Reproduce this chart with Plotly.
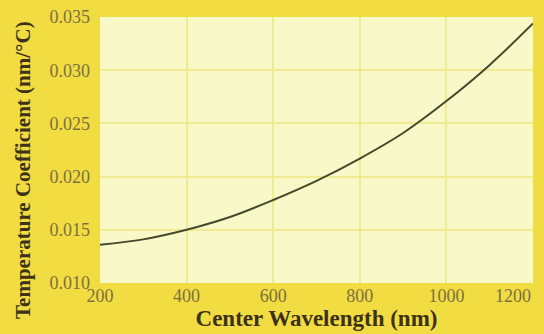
import plotly.graph_objects as go

# Temperature coefficient of the center wavelength
wavelength_nm = [200, 300, 400, 500, 600, 700, 800, 900, 1000, 1100, 1200]
temp_coeff = [0.0136, 0.0141, 0.0150, 0.0162, 0.0178, 0.0196, 0.0217, 0.0241, 0.0271, 0.0305, 0.0344]

x_ticks = [200, 400, 600, 800, 1000, 1200]
x_tick_text = ["200", "400", "600", "800", "1000", "1200"]
y_ticks = [0.010, 0.015, 0.020, 0.025, 0.030, 0.035]

serif = "Liberation Serif, Times New Roman, serif"
tick_color = "#7d7040"
title_color = "#3d3119"

# plot area in pixels: left 100, right 533, top 17, bottom 283
W, H = 544, 334
L, R, T, B = 100, 11, 17, 51
plot_w = W - L - R
plot_h = H - T - B

fig = go.Figure()
fig.add_trace(go.Scatter(
    x=wavelength_nm, y=temp_coeff, mode="lines",
    line=dict(color="#434a2c", width=2, shape="spline", smoothing=1.0),
    hoverinfo="skip", showlegend=False,
))
# the same curve, unseen, so the overlaid axis carrying the last label is drawn
fig.add_trace(go.Scatter(
    x=wavelength_nm, y=temp_coeff, mode="lines", xaxis="x2",
    line=dict(width=0), opacity=0, hoverinfo="skip", showlegend=False,
))

x_range = [x_ticks[0], x_ticks[-1]]
common_x = dict(range=x_range, zeroline=False, showline=False, ticks="",
                automargin=False, tickfont=dict(size=18, color=tick_color))

fig.update_layout(
    width=W, height=H,
    margin=dict(l=L, r=R, t=T, b=B, autoexpand=False),
    paper_bgcolor="#f1dc42",
    plot_bgcolor="#f8f8c8",
    font=dict(family=serif, color=tick_color),
    # all but the last label sit centred under their gridlines
    xaxis=dict(
        **common_x,
        tickvals=x_ticks, ticktext=x_tick_text[:-1] + [""],
        showgrid=True, gridcolor="#f0ea90", gridwidth=2,
        title=dict(text="<b>Center Wavelength (nm)</b>", standoff=0,
                   font=dict(size=23, color=title_color)),
    ),
    # the last label is pulled inwards so it stays inside the page
    xaxis2=dict(
        **common_x,
        overlaying="x", anchor="y", side="bottom", showgrid=False,
        tickvals=x_ticks[-1:], ticktext=x_tick_text[-1:], ticklabelshift=-20,
    ),
    yaxis=dict(
        range=[y_ticks[0], y_ticks[-1]], tickvals=y_ticks,
        ticktext=[f"{v:.3f}" for v in y_ticks],
        showgrid=True, gridcolor="#f0ea90", gridwidth=2, zeroline=False,
        showline=False, ticks="", ticklabelstandoff=9, automargin=False,
        tickfont=dict(size=18, color=tick_color),
    ),
    annotations=[dict(
        text="<b>Temperature Coefficient (nm/°C)</b>",
        xref="paper", yref="paper",
        x=(23 - L) / plot_w, y=(H - B - 170) / plot_h,
        xanchor="center", yanchor="middle", textangle=-90, showarrow=False,
        font=dict(size=21, color=title_color, family=serif),
    )],
)

fig.write_html("out.html")
